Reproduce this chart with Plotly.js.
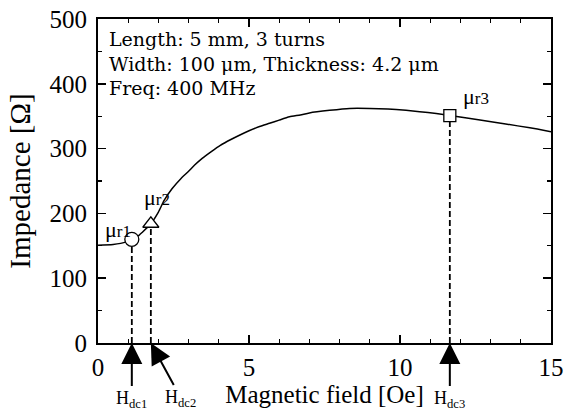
<!DOCTYPE html>
<html>
<head>
<meta charset="utf-8">
<script src="https://cdn.plot.ly/plotly-3.0.1.min.js"></script>
<style>
  html, body { margin: 0; padding: 0; background: #fff; }
  #chart { width: 579px; height: 413px; }
</style>
</head>
<body>
<div id="chart"></div>
<script>
// Impedance of the meander element versus applied DC magnetic field
const fieldOe = [0, 0.5, 0.94, 1.12, 1.3, 1.47, 1.75, 2.0, 2.19, 2.45, 2.75, 3.0, 3.2, 3.45, 3.74, 4.05, 4.4, 4.7, 5.0, 5.35, 5.68, 6.0, 6.34, 6.7, 7.0, 7.67, 8.33, 9.0, 9.6, 10.2, 10.65, 11.2, 11.65, 12.65, 13.5, 14.3, 15];
const impedanceOhm = [151, 152, 156, 160, 164, 171, 184, 202, 220, 238, 254, 265, 274.6, 285, 295, 305, 314, 321, 327.5, 334, 339, 344, 349, 352, 355, 359, 362, 362, 361, 359, 357, 354, 351, 344, 338, 332, 326];

// Bias operating points
const biasField = [1.12, 1.75, 11.65];
const biasImpedance = [160, 184, 351];
const biasSymbols = ['circle', 'triangle-up', 'square'];
const muLabels = ['r1', 'r2', 'r3'];
const hdcLabels = ['dc1', 'dc2', 'dc3'];

// Sample description
const infoLines = ['Length: 5 mm, 3 turns', 'Width: 100 μm, Thickness: 4.2 μm', 'Freq: 400 MHz'];

const serif = "'Liberation Serif', 'Times New Roman', serif";

const traces = [];
traces.push({
  x: fieldOe, y: impedanceOhm, type: 'scatter', mode: 'lines',
  line: { color: '#000', width: 1.5, shape: 'spline', smoothing: 0.6 },
  hoverinfo: 'skip', showlegend: false
});
// Dashed drop lines from each bias point down to the field axis
biasField.forEach((h, i) => {
  traces.push({
    x: [h, h], y: [0, biasImpedance[i]], type: 'scatter', mode: 'lines',
    line: { color: '#000', width: 1.8, dash: '6px,3px' },
    hoverinfo: 'skip', showlegend: false
  });
});
// Open markers, white-filled so the curve is hidden behind them
biasField.forEach((h, i) => {
  traces.push({
    x: [h], y: [biasImpedance[i]], type: 'scatter', mode: 'markers',
    marker: {
      symbol: biasSymbols[i],
      size: i === 2 ? 12 : 14, color: '#fff',
      line: { color: '#000', width: 1.3 }
    },
    cliponaxis: false, hoverinfo: 'skip', showlegend: false
  });
});

const annotations = [];
annotations.push({
  xref: 'paper', yref: 'paper', x: 0, y: 1, xanchor: 'left', yanchor: 'top',
  xshift: 9, yshift: -7, showarrow: false, align: 'left',
  text: infoLines.join('<br>'),
  font: { family: "'DejaVu Serif', serif", size: 19, color: '#000' }
});

const muShift = [[-14, 10], [6, 26], [26, 19]];
biasField.forEach((h, i) => {
  annotations.push({
    x: h, y: biasImpedance[i], xref: 'x', yref: 'y', showarrow: false,
    xshift: muShift[i][0], yshift: muShift[i][1],
    text: 'μ<span style="font-size:17px">' + muLabels[i] + '</span>',
    font: { family: serif, size: 22, color: '#000' }
  });
});

// Arrows from the H labels up to the bias fields on the axis
const hdcOffset = [[0, 56], [30, 55], [0, 56]];
biasField.forEach((h, i) => {
  annotations.push({
    x: h, y: 0, xref: 'x', yref: 'y',
    text: 'H<sub>' + hdcLabels[i] + '</sub>',
    font: { family: serif, size: 18, color: '#000' },
    showarrow: true, ax: hdcOffset[i][0], ay: hdcOffset[i][1],
    arrowhead: 2, arrowsize: 2.1, arrowwidth: 2, arrowcolor: '#000', standoff: 0
  });
});

const axisCommon = {
  showline: true, linecolor: '#000', linewidth: 2, mirror: 'ticks',
  ticks: 'inside', ticklen: 8, tickwidth: 1.5, tickcolor: '#000',
  showgrid: false, zeroline: false,
  tickfont: { family: serif, size: 25, color: '#000' }
};

const layout = {
  width: 579, height: 413,
  margin: { l: 98, r: 28, t: 19, b: 70, pad: 0 },
  paper_bgcolor: '#fff', plot_bgcolor: '#fff',
  showlegend: false,
  xaxis: Object.assign({}, axisCommon, {
    range: [0, 15], dtick: 5, tick0: 0,
    minor: { dtick: 1, ticks: 'inside', ticklen: 4, tickwidth: 1.2, tickcolor: '#000' },
    ticklabelstandoff: 1,
    title: { text: 'Magnetic field [Oe]', font: { family: serif, size: 25, color: '#000' }, standoff: 2 }
  }),
  yaxis: Object.assign({}, axisCommon, {
    range: [0, 500], dtick: 100, tick0: 0,
    minor: { dtick: 50, ticks: 'inside', ticklen: 4, tickwidth: 1.2, tickcolor: '#000' },
    ticklabelstandoff: 4,
    title: { text: 'Impedance [Ω]', font: { family: serif, size: 29, color: '#000' }, standoff: 10 }
  }),
  annotations: annotations
};

Plotly.newPlot('chart', traces, layout, { staticPlot: true, displayModeBar: false });
</script>
</body>
</html>
